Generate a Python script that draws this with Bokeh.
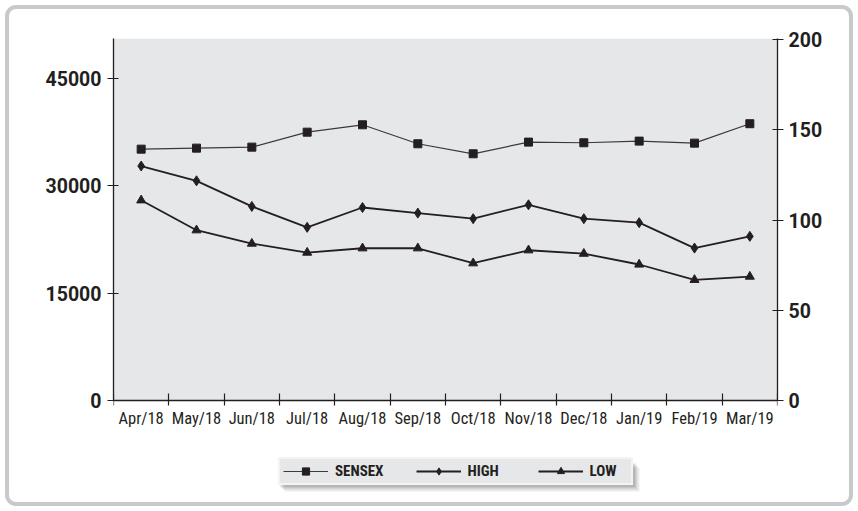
import numpy as np
from bokeh.plotting import figure
from bokeh.models import Range1d, LinearAxis, FixedTicker, Legend, LegendItem, BoxAnnotation
from bokeh.embed import file_html
from bokeh.resources import INLINE

# ---- data ----
months = ["Apr/18", "May/18", "Jun/18", "Jul/18", "Aug/18", "Sep/18",
          "Oct/18", "Nov/18", "Dec/18", "Jan/19", "Feb/19", "Mar/19"]
sensex = [35100, 35240, 35380, 37470, 38500, 35850, 34450, 36080, 35990, 36220, 35940, 38650]
high = [130.0, 121.8, 107.6, 96.0, 107.0, 103.9, 100.8, 108.5, 100.8, 98.6, 84.5, 91.0]
low = [111.0, 94.4, 87.0, 82.0, 84.4, 84.4, 76.1, 83.3, 81.4, 75.4, 66.9, 68.7]
series_names = ["SENSEX", "HIGH", "LOW"]
left_ticks = [0, 15000, 30000, 45000]
right_ticks = [0, 50, 100, 150, 200]
LEFT_MAX, RIGHT_MAX = 50550, 200.7

INK = "#231f20"
BOLD_FONT = "Roboto"
COND_FONT = "Roboto Condensed, Liberation Sans Narrow, DejaVu Sans Condensed, Roboto"

# layout (pixels): frame left/right 113/777, top 38, value-axis zero at 400, frame bottom 500
FL, FR, FT, AX0, FB = 113, 777, 38, 400, 500
below_frac = (FB - AX0) / (AX0 - FT)

n = len(months)
x = np.arange(n)

p = figure(width=858, height=511, output_backend="svg", toolbar_location=None,
           x_range=Range1d(-0.5, n - 0.5),
           y_range=Range1d(-LEFT_MAX * below_frac, LEFT_MAX),
           min_border_left=FL, min_border_right=858 - FR, min_border_top=FT,
           min_border_bottom=511 - FB,
           background_fill_color=None, border_fill_color=None,
           outline_line_color=None)
p.styles = {"outline": "4px solid #c8c9cb", "outline-offset": "-9px", "border-radius": "16px"}
p.extra_y_ranges = {"right": Range1d(-RIGHT_MAX * below_frac, RIGHT_MAX)}
p.xgrid.visible = False
p.ygrid.visible = False

# grey plotting area
p.quad(left=p.x_range.start, right=p.x_range.end, bottom=0, top=LEFT_MAX,
       fill_color="#e6e7e8", line_color=None)

# bottom axis at value 0: labels at month centres, ticks at month boundaries
xa = p.xaxis[0]
xa.fixed_location = 0
xa.ticker = FixedTicker(ticks=list(range(n)), minor_ticks=[i - 0.5 for i in range(n + 1)])
xa.major_label_overrides = {i: m for i, m in enumerate(months)}
xa.major_tick_line_color = None
xa.major_tick_in = 0
xa.major_tick_out = 5
xa.minor_tick_in = 7
xa.minor_tick_out = 5
xa.minor_tick_line_color = INK
xa.minor_tick_line_width = 1.2
xa.axis_line_color = INK
xa.axis_line_width = 1.3
xa.major_label_standoff = 3
xa.major_label_text_font = COND_FONT
xa.major_label_text_font_size = "16.5px"
xa.major_label_text_color = INK

# left axis
ya = p.yaxis[0]
ya.bounds = (0, LEFT_MAX)
ya.ticker = FixedTicker(ticks=left_ticks)
ya.minor_tick_line_color = None
ya.major_tick_in = 5
ya.major_tick_out = 6
ya.major_tick_line_color = INK
ya.major_tick_line_width = 1.2
ya.axis_line_color = INK
ya.axis_line_width = 1.3
ya.major_label_standoff = 6
ya.major_label_text_font = BOLD_FONT
ya.major_label_text_font_style = "bold"
ya.major_label_text_font_size = "19.5px"
ya.major_label_text_color = INK

# right axis
ra = LinearAxis(y_range_name="right", ticker=FixedTicker(ticks=right_ticks),
                bounds=(0, RIGHT_MAX))
ra.minor_tick_line_color = None
ra.major_tick_in = 5
ra.major_tick_out = 6
ra.major_tick_line_color = INK
ra.major_tick_line_width = 1.2
ra.axis_line_color = INK
ra.axis_line_width = 1.3
ra.major_label_standoff = 5
ra.major_label_text_font = BOLD_FONT
ra.major_label_text_font_style = "bold"
ra.major_label_text_font_size = "19.5px"
ra.major_label_text_color = INK
p.add_layout(ra, "right")

# series
s_line = p.line(x, sensex, line_color="#3a3a3a", line_width=1.2)
s_pts = p.scatter(x, sensex, marker="square", size=8, fill_color=INK, line_color=INK)
h_line = p.line(x, high, y_range_name="right", line_color=INK, line_width=1.8)
h_pts = p.scatter(x, high, y_range_name="right", marker="diamond", size=10,
                  fill_color=INK, line_color=INK)
l_line = p.line(x, low, y_range_name="right", line_color=INK, line_width=1.8)
l_pts = p.scatter(x, low, y_range_name="right", marker="triangle", size=9,
                  fill_color=INK, line_color=INK)

# legend box geometry (pixels)
LX, LY = 165, 15            # bottom-left relative to frame bottom-left
L_LEFT, L_BOTTOM = FL + LX, FB - LY
L_W, L_H = 355, 24


def px_x(px):
    return p.x_range.start + (px - FL) * (p.x_range.end - p.x_range.start) / (FR - FL)


def px_y(py):
    return LEFT_MAX - (py - FT) * LEFT_MAX / (AX0 - FT)


# soft drop shadow under the legend
for d, a in [(6, 0.07), (4, 0.10), (2, 0.14)]:
    p.add_layout(BoxAnnotation(left=px_x(L_LEFT + d), right=px_x(L_LEFT + L_W + d),
                               top=px_y(L_BOTTOM - L_H + d), bottom=px_y(L_BOTTOM + d),
                               fill_color="#000000", fill_alpha=a, line_color=None))

legend = Legend(items=[LegendItem(label=series_names[0], renderers=[s_line, s_pts]),
                       LegendItem(label=series_names[1], renderers=[h_line, h_pts]),
                       LegendItem(label=series_names[2], renderers=[l_line, l_pts])],
                location=(LX, LY), orientation="horizontal",
                padding=3, spacing=32, margin=0,
                glyph_width=45, glyph_height=18, label_height=18, label_standoff=7,
                label_width=38,
                label_text_font=COND_FONT, label_text_font_style="bold",
                label_text_font_size="15px", label_text_color=INK,
                background_fill_color="#e6e7e8", background_fill_alpha=1,
                border_line_color="white", border_line_width=2)
p.add_layout(legend)

open("out.html", "w").write(file_html(p, INLINE))
